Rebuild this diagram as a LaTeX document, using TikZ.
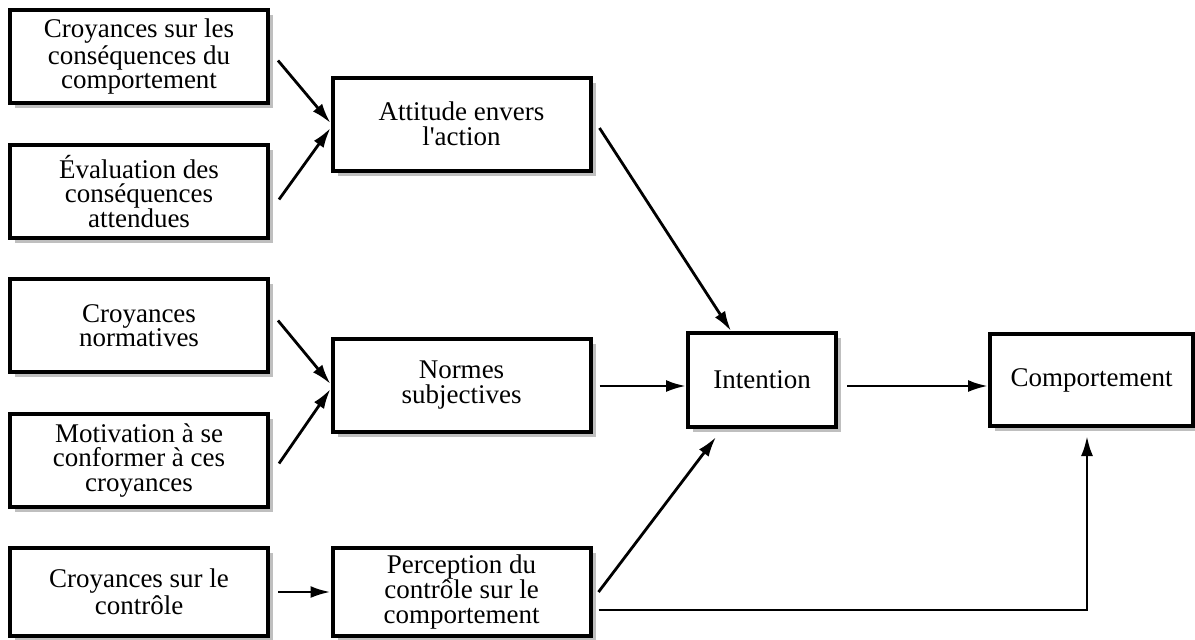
\documentclass[tikz,border=0pt]{standalone}
\usepackage{fontspec}
\setmainfont{Liberation Serif}
\usetikzlibrary{arrows.meta,shadows}

\begin{document}
\begin{tikzpicture}[x=0.5pt,y=-0.5pt,>={Latex[length=10pt,width=6pt]}]
\useasboundingbox (0,0) rectangle (1195,639);

\tikzstyle{box}=[draw,line width=2pt,fill=white,align=center,inner sep=0pt,
  minimum width=129pt,minimum height=46.5pt,
  font=\fontsize{13.5}{12.3}\selectfont,
  drop shadow={shadow xshift=2.5pt,shadow yshift=-2.5pt,fill=black!25,opacity=1}]
\tikzstyle{flow}=[->,line width=1.4pt]

% left column
\draw (139,56.5) node[box] (cons) {Croyances sur les\\cons\'equences du\\comportement};
\draw (139,191.5) node[box] (eval) {\'Evaluation des\\cons\'equences\\attendues};
\draw (139,325.5) node[box] (norm) {Croyances\\normatives};
\draw (139,460.5) node[box] (motiv) {Motivation \`a se\\conformer \`a ces\\croyances};
\draw (139,592) node[box,minimum height=44pt] (ctrl) {Croyances sur le\\contr\^ole};

% middle column
\draw (461.5,124) node[box] (att) {Attitude envers\\l\textquotesingle action};
\draw (461.5,385) node[box] (subj) {Normes\\subjectives};
\draw (461.5,592) node[box,minimum height=44pt] (perc) {Perception du\\contr\^ole sur le\\comportement};

% right
\draw (762,380) node[box,minimum width=74pt,minimum height=47pt] (int) {Intention};
\draw (1091.5,380) node[box,minimum width=101.5pt,minimum height=46pt] (comp) {Comportement};

\draw[flow] ([shift={(8,4)}]cons.east) -- ([shift={(0,-1)}]att.west);
\draw[flow] ([shift={(9,8)}]eval.east) -- ([shift={(0,4)}]att.west);
\draw[flow] ([shift={(8,-5)}]norm.east) -- ([shift={(0,-1)}]subj.west);
\draw[flow] ([shift={(9,3)}]motiv.east) -- ([shift={(0,4)}]subj.west);
\draw[flow] ([xshift=4pt]ctrl.east) -- (perc.west);

\draw[flow] ([shift={(7,4)}]att.east) -- ([xshift=-15.5pt]int.north);
\draw[flow] ([shift={(7,1)}]subj.east) -- ([shift={(0,6)}]int.west);
\draw[flow] ([xshift=3pt]perc.east) -- ([shift={(-46,8)}]int.south);

\draw[flow] ([shift={(9,6)}]int.east) -- ([shift={(0,6)}]comp.west);
\draw[flow] ([shift={(6,18)}]perc.east) -| ([shift={(-4.5,8)}]comp.south);
\end{tikzpicture}
\end{document}
